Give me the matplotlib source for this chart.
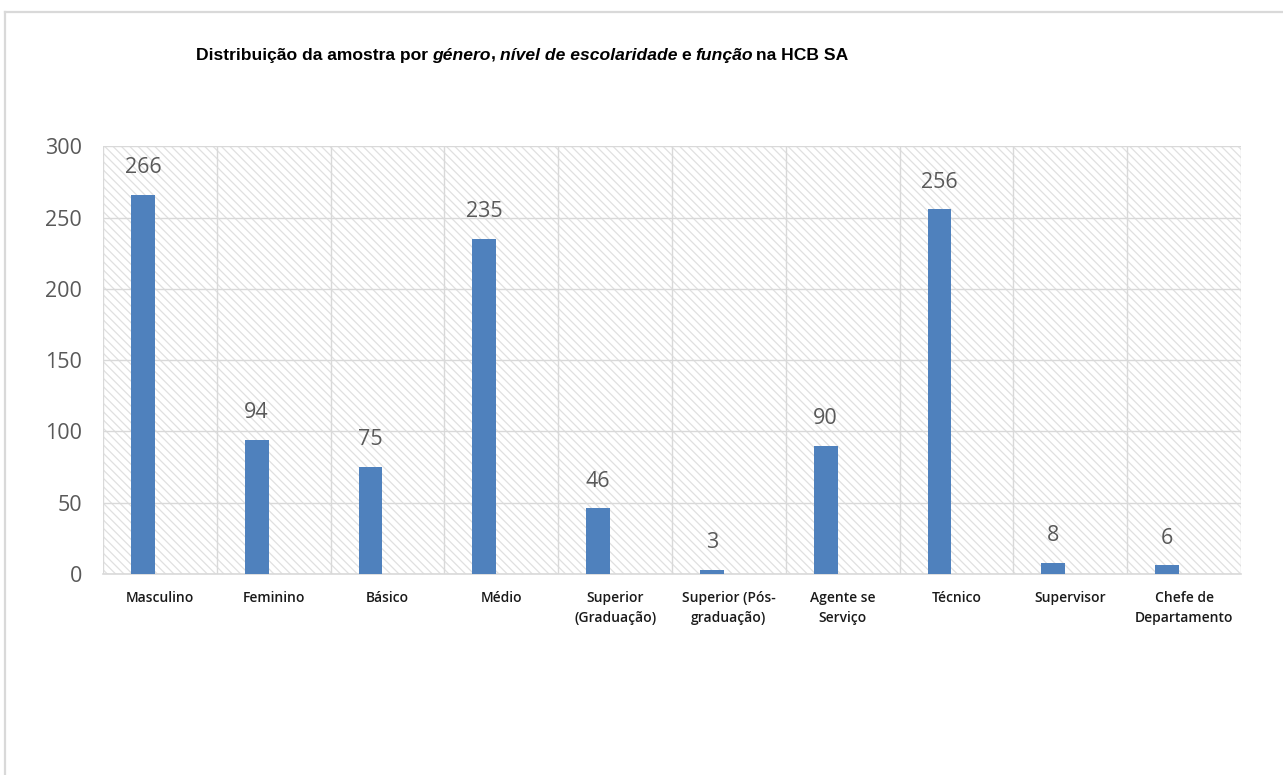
"""Distribuição da amostra por género, nível de escolaridade e função na HCB SA"""

import matplotlib
matplotlib.use("Agg")
import matplotlib.pyplot as plt
from matplotlib.patches import Rectangle
from matplotlib.lines import Line2D
import numpy as np

categories = ["Masculino", "Feminino", "Básico", "Médio", "Superior\n(Graduação)",
              "Superior (Pós-\ngraduação)", "Agente se\nServiço", "Técnico",
              "Supervisor", "Chefe de\nDepartamento"]
counts = [266, 94, 75, 235, 46, 3, 90, 256, 8, 6]
y_ticks = [0, 50, 100, 150, 200, 250, 300]

# (text, style, gap before it in points)
title_parts = [("Distribuição da amostra por", "normal", 0),
               ("género", "italic", 3),
               (",", "normal", 0),
               ("nível de escolaridade", "italic", 3),
               ("e", "normal", 3),
               ("função", "italic", 3),
               ("na HCB SA", "normal", 2)]

BLUE = "#4f81bd"
GRID = "#d9d9d9"
TXT = "#595959"
TITLE_FONT = dict(fontsize=12.6, weight="bold", family="Liberation Sans")

fig = plt.figure(figsize=(12.83, 7.75), dpi=100)
ax = fig.add_axes([0.0803, 0.2594, 0.887, 0.5516])

x = np.arange(len(categories))
ax.bar(x - 0.15, counts, width=0.21, color=BLUE, zorder=3)

for xi, v in zip(x, counts):
    ax.annotate(str(v), (xi - 0.15, v), xytext=(0, 12), textcoords="offset points",
                ha="center", va="bottom", fontsize=15.5, color=TXT,
                family="Open Sans", zorder=4)

ax.set_xlim(-0.5, len(categories) - 0.5)
ax.set_ylim(0, 300)
ax.set_yticks(y_ticks)
ax.set_xticks(x)
ax.set_xticklabels(categories, fontsize=10, family="Open Sans", weight="semibold",
                   color="#1a1a1a", linespacing=1.55)
ax.tick_params(axis="x", length=0, pad=12)
ax.tick_params(axis="y", length=0, pad=15, labelsize=15.5, labelcolor=TXT)
for lab in ax.get_yticklabels():
    lab.set_family("Open Sans")

# category boundary gridlines
ax.set_xticks(np.arange(-0.5, len(categories), 1.0), minor=True)
ax.tick_params(axis="x", which="minor", length=0)
ax.grid(True, axis="x", which="minor", color=GRID, linewidth=1, zorder=1)
ax.grid(True, axis="y", which="major", color=GRID, linewidth=1, zorder=1)

for s in ["top", "right", "left"]:
    ax.spines[s].set_visible(False)
ax.spines["bottom"].set_color(GRID)
ax.spines["bottom"].set_linewidth(1.2)

# hatched plot background
plt.rcParams["hatch.linewidth"] = 0.9
ax.add_patch(Rectangle((0, 0), 1, 1, transform=ax.transAxes, fill=False,
                       hatch="\\\\\\\\", edgecolor="#e0e0e0", linewidth=0, zorder=0))

# chart border
fig.add_artist(Line2D([5 / 1283, 1.0], [1 - 12 / 775, 1 - 12 / 775], color=GRID,
                      linewidth=1.6, transform=fig.transFigure))
fig.add_artist(Line2D([5 / 1283, 5 / 1283], [0.0, 1 - 12 / 775], color=GRID,
                      linewidth=1.6, transform=fig.transFigure))

# title with mixed styles, each piece placed after the previous one
prev = fig.text(196 / 1283, 1 - 63 / 775, title_parts[0][0], va="bottom", ha="left",
                style=title_parts[0][1], **TITLE_FONT)
for text, style, gap in title_parts[1:]:
    prev = ax.annotate(text, xy=(1, 0), xycoords=prev, xytext=(gap, 0),
                       textcoords="offset points", va="bottom", ha="left",
                       style=style, annotation_clip=False, **TITLE_FONT)

fig.savefig("out.png", dpi=100)
